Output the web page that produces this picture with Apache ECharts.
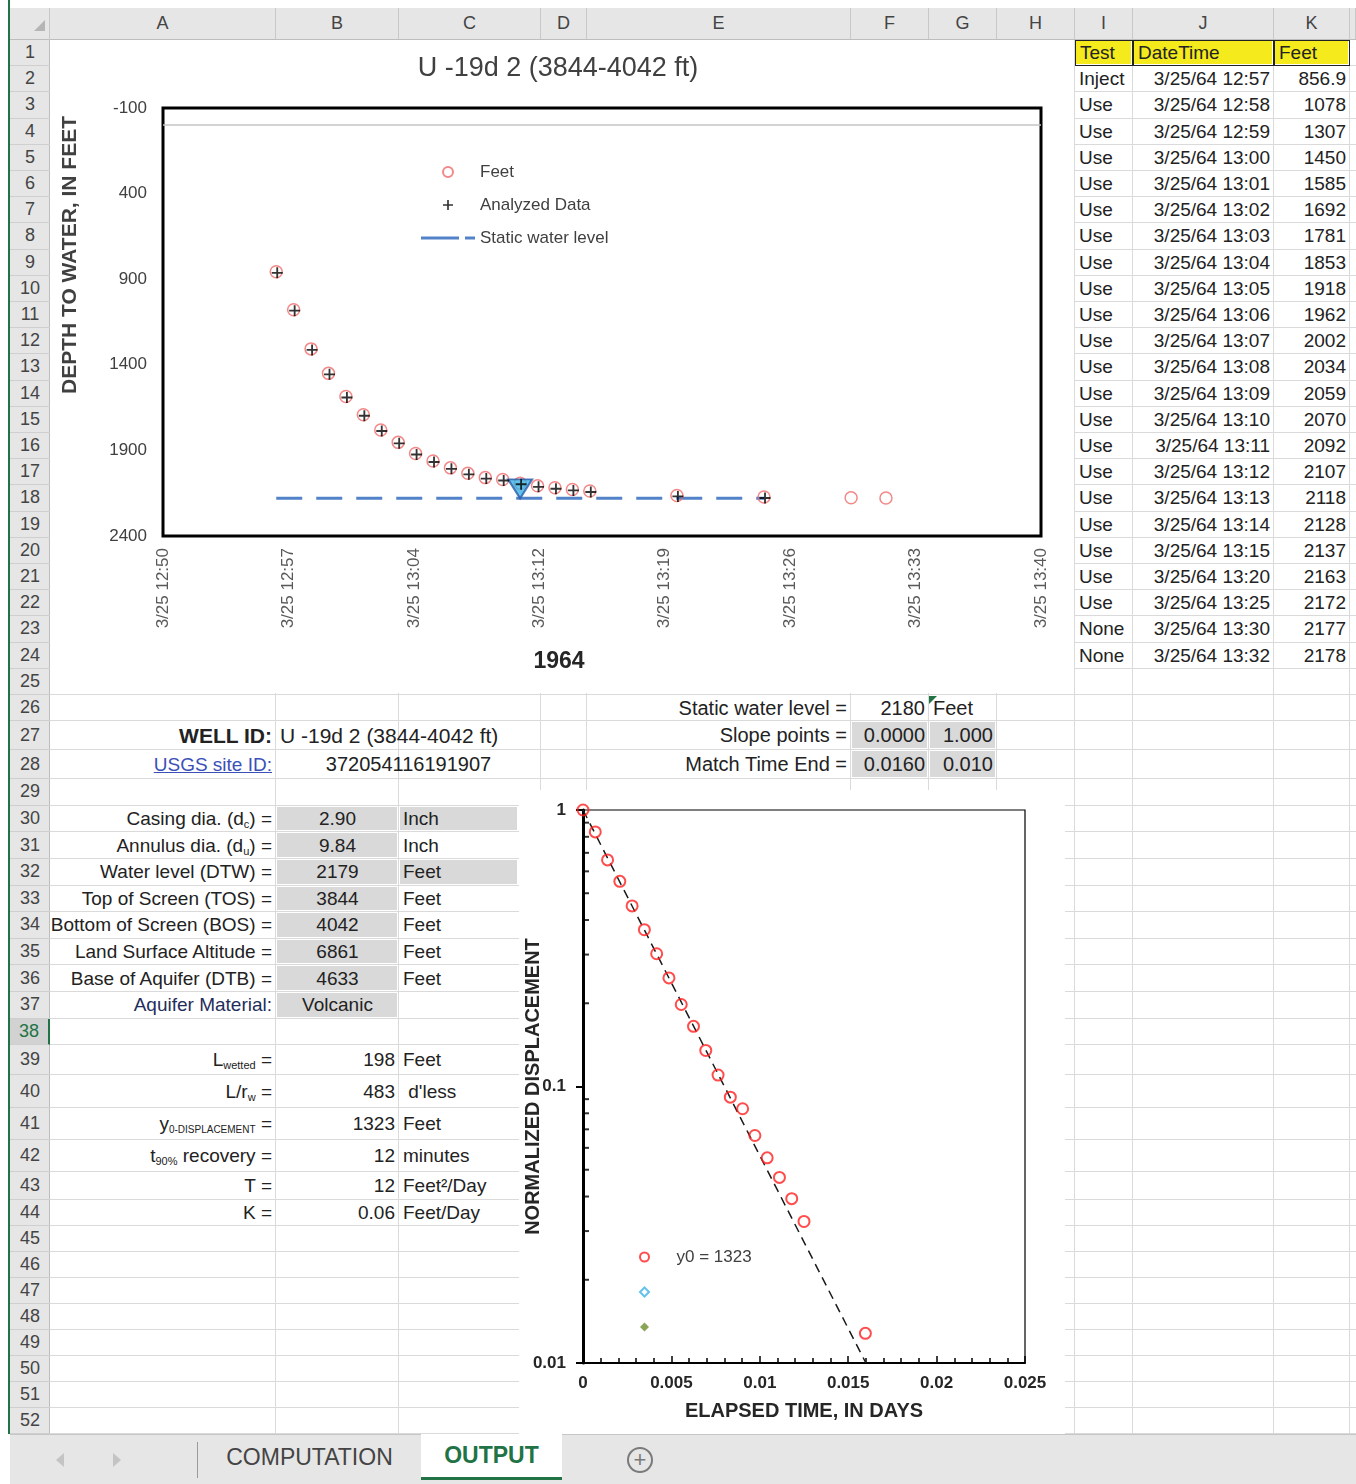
<!DOCTYPE html>
<html>
<head>
<meta charset="utf-8">
<script src="https://cdn.jsdelivr.net/npm/echarts@6/dist/echarts.min.js"></script>
<style>
  body { margin: 0; width: 1356px; height: 1484px; position: relative; overflow: hidden; background: #fff;
         font-family: "Liberation Sans", Arial, sans-serif; }
  .abs { position: absolute; box-sizing: border-box; }
  .cell { position: absolute; box-sizing: border-box; display: flex; align-items: center; white-space: nowrap;
          font-size: 19px; color: #222; padding: 0 4px; }
  .hdr { position: absolute; box-sizing: border-box; display: flex; align-items: center; justify-content: center;
         font-size: 18px; color: #444; }
  sub { font-size: 11px; vertical-align: -3px; }
  .chart { position: absolute; background: #fff; z-index: 5; }
</style>
</head>
<body>
<div id="sheet"></div>
<div id="chartTop" class="chart" style="left:50px;top:40px;width:1024px;height:653px"></div>
<div id="chartBot" class="chart" style="left:519px;top:790px;width:546px;height:644px"></div>

<script>
// ---- data: time series table (columns I, J, K) ----
const testTypes = ['Inject', 'Use', 'Use', 'Use', 'Use', 'Use', 'Use', 'Use', 'Use', 'Use', 'Use', 'Use',
  'Use', 'Use', 'Use', 'Use', 'Use', 'Use', 'Use', 'Use', 'Use', 'None', 'None']
const dateTimes = ['3/25/64 12:57', '3/25/64 12:58', '3/25/64 12:59', '3/25/64 13:00', '3/25/64 13:01',
  '3/25/64 13:02', '3/25/64 13:03', '3/25/64 13:04', '3/25/64 13:05', '3/25/64 13:06', '3/25/64 13:07',
  '3/25/64 13:08', '3/25/64 13:09', '3/25/64 13:10', '3/25/64 13:11', '3/25/64 13:12', '3/25/64 13:13',
  '3/25/64 13:14', '3/25/64 13:15', '3/25/64 13:20', '3/25/64 13:25', '3/25/64 13:30', '3/25/64 13:32']
const feetValues = [856.9, 1078, 1307, 1450, 1585, 1692, 1781, 1853, 1918, 1962, 2002, 2034,
  2059, 2070, 2092, 2107, 2118, 2128, 2137, 2163, 2172, 2177, 2178]

// static water level and its marker
const staticWaterLevel = 2180
const swlLineTimes = ['3/25/64 12:57', '3/25/64 13:25']
const swlMarkerTime = '3/25/64 13:11'

// top chart axis ticks
const depthTicks = [-100, 400, 900, 1400, 1900, 2400]
const timeAxisStart = Date.UTC(1964, 2, 25, 12, 50, 30)
const timeTickStepMin = 7.2
const timeTickCount = 8

// bottom chart: normalized displacement vs elapsed time
const elapsedDays = [0, 0.000694, 0.001389, 0.002083, 0.002778, 0.003472, 0.004167, 0.004861, 0.005556,
  0.00625, 0.006944, 0.007639, 0.008333, 0.009028, 0.009722, 0.010417, 0.011111, 0.011806, 0.0125, 0.015972]
const normDisp = [1.000, 0.833, 0.660, 0.552, 0.450, 0.369, 0.302, 0.247, 0.198, 0.165, 0.135, 0.110,
  0.0915, 0.0831, 0.0665, 0.0552, 0.0469, 0.0393, 0.0325, 0.0128]
const slopeTimes = [0.0000, 0.0160]
const slopeValues = [1.000, 0.010]
const logMinorTicks = [0.02, 0.03, 0.04, 0.05, 0.06, 0.07, 0.08, 0.09, 0.2, 0.3, 0.4, 0.5, 0.6, 0.7, 0.8, 0.9]
const y0Label = 'y0 = 1323'

// ---- spreadsheet layout ----
const colEdges = [50, 276, 399, 541, 587, 851, 929, 997, 1075, 1133, 1274, 1350, 1356]
const colNames = ['A', 'B', 'C', 'D', 'E', 'F', 'G', 'H', 'I', 'J', 'K', '']
const rowHeights = [...Array(26).fill(26.2), 29, 29, ...Array(10).fill(26.6), 30, 33, 32, 32, 28, ...Array(9).fill(26)]
const rowTop = []
let yy = 40
rowHeights.forEach(h => { rowTop.push(yy); yy += h })
const R = r => rowTop[r - 1]
const H = r => rowHeights[r - 1]

const sheet = document.getElementById('sheet')
function box (x, y, w, h, css, cls) {
  const d = document.createElement('div')
  d.className = cls || 'abs'
  d.style.cssText = `left:${x}px;top:${y}px;width:${w}px;height:${h}px;` + (css || '')
  sheet.appendChild(d)
  return d
}

// gridlines
rowHeights.forEach((h, i) => box(50, rowTop[i] + h - 1, 1306, 1, 'background:#dadada'))
colEdges.slice(1, -1).forEach(x => box(x - 1, 40, 1, 1394, 'background:#dadada'))

// column header
box(10, 8, 1346, 32, 'background:#e6e6e6;border-bottom:1px solid #bdbdbd')
box(10, 8, 40, 32, 'border-right:1px solid #c8c8c8')
box(34, 20, 0, 0, 'border-left:11px solid transparent;border-bottom:11px solid #b5b5b5')
colNames.forEach((n, i) => {
  const d = box(colEdges[i], 8, colEdges[i + 1] - colEdges[i], 31, 'border-right:1px solid #c8c8c8', 'hdr')
  d.textContent = n
})

// row header
box(10, 40, 40, 1394, 'background:#e6e6e6;border-right:1px solid #bdbdbd')
rowHeights.forEach((h, i) => {
  const sel = i === 37
  const d = box(10, rowTop[i], 40, h, 'border-bottom:1px solid #cfcfcf;' +
    (sel ? 'background:#d2d2d2;color:#217346;border-right:2px solid #217346;' : ''), 'hdr')
  d.textContent = i + 1
})
box(8, 0, 2, 1434, 'background:#217346')

function cell (r, c0, c1, html, o = {}) {
  const x0 = colEdges[c0]
  const x1 = o.xEnd || colEdges[c1 + 1]
  if (o.bg) box(x0 + 1, R(r) + 1, x1 - x0 - 3, H(r) - 3, `background:${o.bg}`)
  const d = box(x0, R(r), x1 - x0, H(r), '', 'cell')
  d.style.justifyContent = o.align === 'right' ? 'flex-end' : o.align === 'center' ? 'center' : 'flex-start'
  if (o.size) d.style.fontSize = o.size + 'px'
  if (o.bold) d.style.fontWeight = 'bold'
  if (o.color) d.style.color = o.color
  if (o.underline) d.style.textDecoration = 'underline'
  if (o.pad) d.style.padding = o.pad
  if (o.border) d.style.border = o.border
  d.innerHTML = '<span>' + html + '</span>'
  return d
}
const GRAY = '#d9d9d9'

// right-hand table
const YEL = '#f4ea1c'
cell(1, 8, 8, 'Test', { bg: YEL, border: '1px solid #222' })
cell(1, 9, 9, 'DateTime', { bg: YEL, border: '1px solid #222' })
cell(1, 10, 10, 'Feet', { bg: YEL, border: '1px solid #222' })
testTypes.forEach((t, i) => {
  cell(i + 2, 8, 8, t)
  cell(i + 2, 9, 9, dateTimes[i], { align: 'right' })
  cell(i + 2, 10, 10, String(feetValues[i]), { align: 'right' })
})

// summary block
cell(26, 4, 4, 'Static water level =', { align: 'right', size: 20 })
cell(26, 5, 5, String(staticWaterLevel), { align: 'right', size: 20 })
cell(26, 6, 6, 'Feet', { size: 20 })
box(929, R(26) + 1, 0, 0, 'border-top:8px solid #217346;border-right:8px solid transparent;z-index:2')
cell(27, 0, 0, 'WELL ID:', { align: 'right', size: 21, bold: true })
cell(27, 1, 3, 'U -19d 2 (3844-4042 ft)', { size: 21 })
cell(27, 4, 4, 'Slope points =', { align: 'right', size: 20 })
cell(27, 5, 5, slopeTimes[0].toFixed(4), { align: 'right', size: 20, bg: GRAY })
cell(27, 6, 6, slopeValues[0].toFixed(3), { align: 'right', size: 20, bg: GRAY })
cell(28, 0, 0, 'USGS site ID:', { align: 'right', size: 19, color: '#3b4fb8', underline: true })
cell(28, 1, 2, '372054116191907', { align: 'center', size: 20 })
cell(28, 4, 4, 'Match Time End =', { align: 'right', size: 20 })
cell(28, 5, 5, slopeTimes[1].toFixed(4), { align: 'right', size: 20, bg: GRAY })
cell(28, 6, 6, slopeValues[1].toFixed(3), { align: 'right', size: 20, bg: GRAY })

const inputs = [
  ['Casing dia. (d<sub>c</sub>) =', '2.90', 'Inch', true],
  ['Annulus dia. (d<sub>u</sub>) =', '9.84', 'Inch', false],
  ['Water level (DTW) =', '2179', 'Feet', true],
  ['Top of Screen (TOS) =', '3844', 'Feet', false],
  ['Bottom of Screen (BOS) =', '4042', 'Feet', false],
  ['Land Surface Altitude =', '6861', 'Feet', false],
  ['Base of Aquifer (DTB) =', '4633', 'Feet', false],
  ['Aquifer Material:', 'Volcanic', '', false]
]
inputs.forEach((row, i) => {
  const r = 30 + i
  cell(r, 0, 0, row[0], { align: 'right', color: i === 7 ? '#1f2d5c' : '#222', pad: '0 4px 0 0' })
  cell(r, 1, 1, row[1], { align: 'center', bg: GRAY })
  if (row[2]) cell(r, 2, 2, row[2], { bg: row[3] ? GRAY : null, xEnd: 519 })
})

const results = [
  ['L<sub>wetted</sub> =', '198', 'Feet'],
  ['L/r<sub>w</sub> =', '483', '&nbsp;d\'less'],
  ['y<sub style="font-size:10px">0-DISPLACEMENT</sub> =', '1323', 'Feet'],
  ['t<sub>90%</sub> recovery =', '12', 'minutes'],
  ['T =', '12', 'Feet²/Day'],
  ['K =', '0.06', 'Feet/Day']
]
results.forEach((row, i) => {
  const r = 39 + i
  cell(r, 0, 0, row[0], { align: 'right' })
  cell(r, 1, 1, row[1], { align: 'right' })
  cell(r, 2, 2, row[2])
})

// sheet tabs
box(10, 1434, 1346, 50, 'background:#e6e6e6;border-top:1px solid #c6c6c6;z-index:6')
box(56, 1453, 0, 0, 'border-top:7px solid transparent;border-bottom:7px solid transparent;border-right:8px solid #c4c4c4;z-index:7')
box(113, 1453, 0, 0, 'border-top:7px solid transparent;border-bottom:7px solid transparent;border-left:8px solid #c4c4c4;z-index:7')
box(197, 1442, 1, 36, 'background:#9a9a9a;z-index:7')
const tab1 = box(198, 1434, 223, 46, 'z-index:7;font-size:23px;color:#444', 'hdr')
tab1.textContent = 'COMPUTATION'
const tab2 = box(421, 1434, 141, 46, 'z-index:7;background:#fff;font-size:23px;font-weight:bold;color:#217346;border-bottom:3px solid #217346', 'hdr')
tab2.textContent = 'OUTPUT'
const plus = box(627, 1447, 26, 26, 'z-index:7;border:2px solid #7a7a7a;border-radius:50%;font-size:22px;color:#7a7a7a;line-height:1', 'hdr')
plus.textContent = '+'

// ---- top chart ----
const timeOf = s => {
  const [dp, tp] = s.split(' ')
  const [m, d, y] = dp.split('/').map(Number)
  const [hh, mm] = tp.split(':').map(Number)
  return Date.UTC(1900 + y, m - 1, d, hh, mm)
}
const pad2 = n => (n < 10 ? '0' : '') + n
const fmtTime = v => {
  const d = new Date(v)
  return (d.getUTCMonth() + 1) + '/' + d.getUTCDate() + ' ' + d.getUTCHours() + ':' + pad2(d.getUTCMinutes())
}
const tickStepMs = timeTickStepMin * 60000
const timeTicks = Array.from({ length: timeTickCount }, (_, k) => timeAxisStart + k * tickStepMs)

const allPts = dateTimes.map((s, i) => [timeOf(s), feetValues[i]])
const analyzedPts = allPts.filter((p, i) => testTypes[i] !== 'None')
const plusPath = 'path://M5,0 H7 V5 H12 V7 H7 V12 H5 V7 H0 V5 H5 Z'
const dashIcon = 'path://M0,0 H38 V3 H0 Z M44,0 H54 V3 H44 Z'
const diamondIcon = 'path://M5,0 L10,5 L5,10 L0,5 Z'
const FONT = 'Liberation Sans'
const SWL_BLUE = '#5283c9'

const topChart = echarts.init(document.getElementById('chartTop'))
topChart.setOption({
  animation: false,
  textStyle: { fontFamily: FONT },
  grid: { left: 113, top: 68, width: 878, height: 428, show: true, borderColor: '#000', borderWidth: 3, outerBoundsMode: 'none' },
  xAxis: {
    type: 'value',
    min: timeTicks[0],
    max: timeTicks[timeTicks.length - 1],
    axisLine: { show: false },
    axisTick: { show: false },
    splitLine: { show: false },
    axisLabel: { customValues: timeTicks, rotate: 90, margin: 12, fontSize: 17, color: '#595959', formatter: fmtTime }
  },
  yAxis: {
    type: 'value',
    inverse: true,
    min: depthTicks[0],
    max: depthTicks[depthTicks.length - 1],
    axisLine: { show: false },
    axisTick: { show: false },
    splitLine: { show: false },
    axisLabel: { customValues: depthTicks, margin: 16, fontSize: 17, color: '#404040', formatter: v => String(v) }
  },
  legend: {
    data: ['Feet', 'Analyzed Data', { name: 'Static water level', icon: dashIcon }],
    orient: 'vertical',
    left: 366,
    top: 117,
    itemWidth: 54,
    itemHeight: 10,
    itemGap: 13,
    textStyle: { fontSize: 17, color: '#404040', lineHeight: 20 }
  },
  graphic: [
    { type: 'text', x: 508, y: 29, style: { text: 'U -19d 2 (3844-4042 ft)', fontSize: 27, fontFamily: FONT, fill: '#404040', align: 'center', verticalAlign: 'middle' } },
    { type: 'text', x: 509, y: 622, style: { text: '1964', fontSize: 23, fontWeight: 'bold', fontFamily: FONT, fill: '#262626', align: 'center', verticalAlign: 'middle' } },
    { type: 'text', x: 20, y: 215, rotation: Math.PI / 2, style: { text: 'DEPTH TO WATER, IN FEET', fontSize: 21, fontWeight: 'bold', fontFamily: FONT, fill: '#404040', align: 'center', verticalAlign: 'middle' } }
  ],
  series: [
    {
      name: 'Static water level',
      type: 'line',
      data: swlLineTimes.map(s => [timeOf(s), staticWaterLevel]),
      symbol: 'none',
      itemStyle: { color: SWL_BLUE },
      lineStyle: { color: SWL_BLUE, width: 3, type: [26, 14] },
      z: 1
    },
    {
      name: 'Feet',
      type: 'scatter',
      data: allPts,
      symbol: 'circle',
      symbolSize: 12,
      itemStyle: { color: 'rgba(0,0,0,0)', borderColor: '#f06a6a', borderWidth: 1.5 },
      z: 2,
      markLine: {
        silent: true,
        symbol: 'none',
        label: { show: false },
        lineStyle: { color: '#c4c4c4', width: 1.5, type: 'solid' },
        data: [{ yAxis: 0 }]
      }
    },
    {
      name: 'swl',
      type: 'scatter',
      data: [[timeOf(swlMarkerTime), staticWaterLevel]],
      symbol: 'triangle',
      symbolRotate: 180,
      symbolSize: [24, 19],
      symbolOffset: [0, '-50%'],
      itemStyle: { color: '#3ab4e6', borderColor: '#2b5ba8', borderWidth: 2 },
      z: 3
    },
    {
      name: 'Analyzed Data',
      type: 'scatter',
      data: analyzedPts,
      symbol: plusPath,
      symbolSize: 11,
      symbolOffset: [1, 1],
      itemStyle: { color: '#000' },
      z: 4
    }
  ]
})

// ---- bottom chart ----
const botChart = echarts.init(document.getElementById('chartBot'))
const axisFont = { fontSize: 17, fontWeight: 'bold', color: '#262626' }
botChart.setOption({
  animation: false,
  textStyle: { fontFamily: FONT },
  grid: { left: 64, top: 20, width: 442, height: 553, show: true, borderColor: '#000', borderWidth: 1.2, outerBoundsMode: 'none' },
  xAxis: {
    type: 'value',
    min: 0,
    max: 0.025,
    interval: 0.005,
    name: 'ELAPSED TIME, IN DAYS',
    nameLocation: 'middle',
    nameGap: 38,
    nameMoveOverlap: false,
    nameTextStyle: { fontSize: 20, fontWeight: 'bold', color: '#262626' },
    axisLine: { onZero: false, lineStyle: { color: '#000', width: 2 } },
    axisTick: { inside: true, length: 7, lineStyle: { color: '#000', width: 1.5 } },
    minorTick: { show: true, splitNumber: 5, length: 5, lineStyle: { color: '#000', width: 1.5 } },
    splitLine: { show: false },
    axisLabel: { ...axisFont, margin: 12 }
  },
  yAxis: {
    type: 'log',
    logBase: 10,
    min: 0.01,
    max: 1,
    name: 'NORMALIZED DISPLACEMENT',
    nameLocation: 'middle',
    nameGap: 40,
    nameRotate: 90,
    nameMoveOverlap: false,
    nameTextStyle: { fontSize: 20, fontWeight: 'bold', color: '#262626' },
    axisLine: { onZero: false, lineStyle: { color: '#000', width: 3 } },
    axisTick: { length: 7, lineStyle: { color: '#000', width: 2 } },
    splitLine: { show: false },
    axisLabel: { ...axisFont, margin: 17 }
  },
  legend: {
    data: [y0Label, { name: ' ', icon: diamondIcon }, { name: '  ', icon: diamondIcon }],
    orient: 'vertical',
    left: 115,
    top: 452,
    itemWidth: 54,
    itemHeight: 9,
    itemGap: 15,
    textStyle: { fontSize: 17, color: '#404040', lineHeight: 20 }
  },
  series: [
    {
      name: 'fit',
      type: 'line',
      data: slopeTimes.map((t, i) => [t, slopeValues[i]]),
      symbol: 'none',
      lineStyle: { color: '#1a1a1a', width: 1.5, type: [9, 6] },
      z: 2
    },
    {
      name: y0Label,
      type: 'scatter',
      data: elapsedDays.map((t, i) => [t, normDisp[i]]),
      symbol: 'circle',
      symbolSize: 11,
      clip: false,
      itemStyle: { color: 'rgba(0,0,0,0)', borderColor: '#ff1f1f', borderWidth: 2 },
      z: 3
    },
    {
      name: ' ',
      type: 'scatter',
      data: [],
      symbol: 'diamond',
      itemStyle: { color: 'rgba(0,0,0,0)', borderColor: '#3db3e8', borderWidth: 1.5 }
    },
    {
      name: '  ',
      type: 'scatter',
      data: [],
      symbol: 'diamond',
      itemStyle: { color: '#6d8f2e' }
    },
    {
      name: 'minor',
      type: 'scatter',
      data: logMinorTicks.map(v => [0, v]),
      symbol: 'rect',
      symbolSize: [6, 2],
      symbolOffset: [3, 0],
      clip: false,
      silent: true,
      itemStyle: { color: '#000' },
      z: 4
    }
  ]
})
</script>
</body>
</html>
